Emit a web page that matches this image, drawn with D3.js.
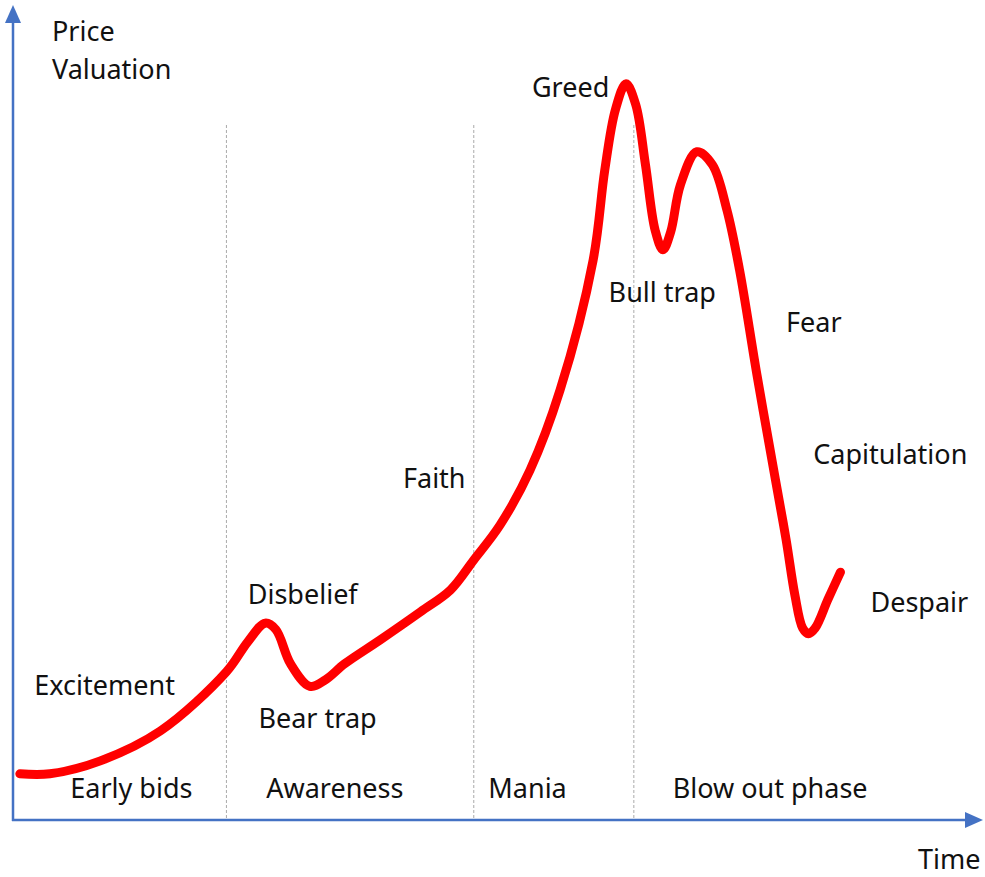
<!DOCTYPE html>
<html>
<head>
<meta charset="utf-8">
<script src="https://cdn.jsdelivr.net/npm/d3@7"></script>
<style>
  body { margin: 0; background: #fff; }
  text { font-family: "Noto Sans", "Open Sans", sans-serif; fill: #111; }
</style>
</head>
<body>
<script>
// market cycle curve: time (0-100) vs price valuation (0-100)
const times = [0.6, 3.7, 8.9, 15.1, 21.9, 24.1, 25.9, 27.0, 28.5, 30.5, 32.1, 34.1, 37.7, 41.9, 45.0, 47.4,
  50.1, 53.2, 56.3, 59.7, 60.9, 62.0, 63.1, 64.1, 65.1, 66.1, 66.9, 67.7, 68.7, 70.4, 72.0, 73.5,
  74.8, 76.6, 78.5, 79.6, 80.5, 81.3, 81.9, 82.6, 83.9, 85.2];
const prices = [5.7, 5.7, 7.3, 11.0, 18.3, 22.0, 24.3, 23.5, 19.3, 16.5, 17.3, 19.3, 22.2, 25.7, 28.4, 32.1,
  36.4, 43.2, 53.1, 69.1, 80.2, 87.7, 90.9, 88.3, 80.9, 72.8, 70.4, 72.6, 78.4, 82.5, 80.9, 75.3,
  67.9, 54.9, 42.0, 34.6, 27.8, 23.7, 23.0, 23.7, 27.2, 30.6];

// phase dividers (time)
const dividers = [21.9, 47.4, 63.9];

// phase names along the bottom
const phases = ['Early bids', 'Awareness', 'Mania', 'Blow out phase'];
const phaseX = [5.8, 26.0, 48.9, 67.9];

// sentiment labels
const moods = ['Greed', 'Bull trap', 'Fear', 'Capitulation', 'Faith', 'Despair', 'Disbelief', 'Excitement', 'Bear trap'];
const moodX = [53.4, 61.3, 79.6, 82.4, 40.1, 88.3, 24.1, 2.1, 25.2];
const moodY = [89.3, 64.0, 60.3, 44.0, 41.0, 25.7, 26.7, 15.4, 11.4];

const width = 985, height = 877;
const margin = {top: 12, right: 1, bottom: 57, left: 13};

const svg = d3.select('body').append('svg')
  .attr('width', width)
  .attr('height', height);

const x = d3.scaleLinear().domain([0, 100]).range([14, 984]);
const y = d3.scaleLinear().domain([0, 100]).range([820, 10]);

const blue = '#4472C4';

// dividers
svg.selectAll('.div')
  .data(dividers)
  .enter().append('line')
  .attr('x1', d => x(d)).attr('x2', d => x(d))
  .attr('y1', 125).attr('y2', y(0))
  .attr('stroke', '#aaa')
  .attr('stroke-width', 1)
  .attr('stroke-dasharray', '3,2');

// axes with arrows
svg.append('line')
  .attr('x1', margin.left).attr('x2', margin.left)
  .attr('y1', y(0) + 1).attr('y2', 20)
  .attr('stroke', blue).attr('stroke-width', 2.5);
svg.append('path')
  .attr('d', `M${margin.left - 8},${23} L${margin.left},${5} L${margin.left + 8},${23} Z`)
  .attr('fill', blue);

svg.append('line')
  .attr('x1', margin.left - 1).attr('x2', width - 16)
  .attr('y1', y(0)).attr('y2', y(0))
  .attr('stroke', blue).attr('stroke-width', 2.5);
svg.append('path')
  .attr('d', `M${width - 20},${y(0) - 8} L${width - 2},${y(0)} L${width - 20},${y(0) + 8} Z`)
  .attr('fill', blue);

// curve
const pts = times.map((t, i) => [t, prices[i]]);
const line = d3.line()
  .x(d => x(d[0]))
  .y(d => y(d[1]))
  .curve(d3.curveCatmullRom.alpha(0.5));

svg.append('path')
  .datum(pts)
  .attr('d', line)
  .attr('fill', 'none')
  .attr('stroke', '#ff0000')
  .attr('stroke-width', 9)
  .attr('stroke-linecap', 'round')
  .attr('stroke-linejoin', 'round');

const fs = 27;

// axis titles
svg.append('text').text('Price').attr('x', 52).attr('y', 41).style('font-size', fs + 'px');
svg.append('text').text('Valuation').attr('x', 52).attr('y', 79).style('font-size', fs + 'px');
svg.append('text').text('Time').attr('x', 918).attr('y', 869).style('font-size', fs + 'px');

// phase labels
svg.selectAll('.phase')
  .data(phases)
  .enter().append('text')
  .text(d => d)
  .attr('x', (d, i) => x(phaseX[i]))
  .attr('y', 798)
  .style('font-size', fs + 'px');

// sentiment labels
svg.selectAll('.mood')
  .data(moods)
  .enter().append('text')
  .text(d => d)
  .attr('x', (d, i) => x(moodX[i]))
  .attr('y', (d, i) => y(moodY[i]))
  .style('font-size', fs + 'px');
</script>
</body>
</html>
